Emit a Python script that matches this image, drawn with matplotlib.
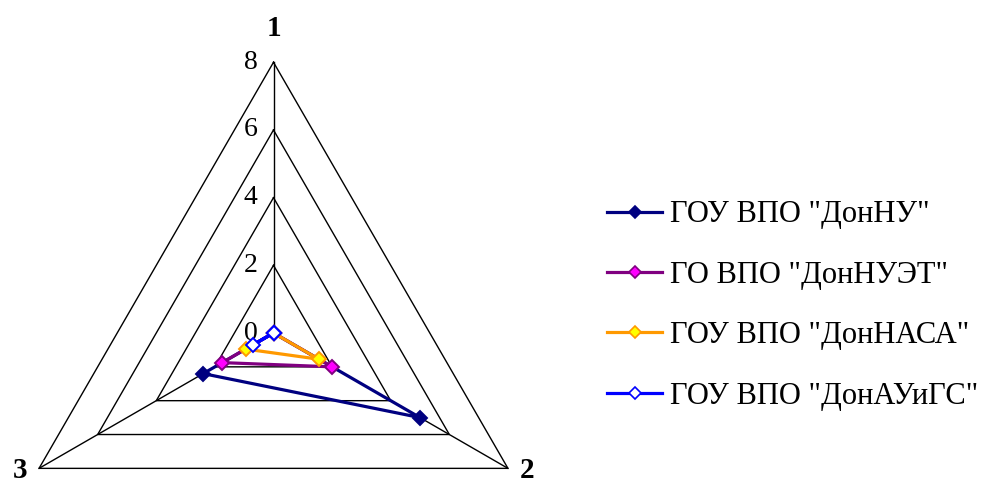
import numpy as np
import matplotlib.pyplot as plt
from matplotlib.lines import Line2D

plt.rcParams['font.family'] = ['Liberation Serif', 'DejaVu Serif']

# axes of the radar, clockwise from the top
categories = ['1', '2', '3']
rings = [2, 4, 6, 8]
ring_labels = ['0', '2', '4', '6', '8']

series_names = ['ГОУ ВПО "ДонНУ"', 'ГО ВПО "ДонНУЭТ"',
                'ГОУ ВПО "ДонНАСА"', 'ГОУ ВПО "ДонАУиГС"']
donnu = [0, 5.0, 2.4]
donnuet = [0, 2.0, 1.75]
donnasa = [0, 1.55, 0.95]
donauigs = [0, 0, 0.7]

line_colors = ['#000080', '#800080', '#FF9900', '#0000FF']
face_colors = ['#000080', '#FF00FF', '#FFFF00', '#FFFFFF']

angles = np.radians([90, -30, 210])


def to_xy(vals):
    v = np.asarray(vals, dtype=float)
    return v * np.cos(angles), v * np.sin(angles)


fig = plt.figure(figsize=(9.97, 4.84), dpi=100)
ax = fig.add_axes([0, 0, 1, 1])
scale = 33.84  # pixels per unit
cx, cy = 273.5, 333.0
ax.set_xlim(-cx / scale, (997 - cx) / scale)
ax.set_ylim(-(484 - cy) / scale, cy / scale)
ax.axis('off')

# triangular grid and spokes
for r in rings:
    x, y = to_xy([r, r, r])
    ax.plot(np.append(x, x[0]), np.append(y, y[0]), color='black', lw=1.0, zorder=1)
for a in angles:
    ax.plot([0, 8 * np.cos(a)], [0, 8 * np.sin(a)], color='black', lw=1.0, zorder=1)

for i, lab in enumerate(ring_labels):
    ax.text(-0.68, 2 * i, lab, fontsize=20, ha='center', va='center', zorder=2)

# category labels
ax.text(0, 9.0, categories[0], fontsize=21, fontweight='bold', ha='center', va='center')
ax.text(7.5, -4.05, categories[1], fontsize=21, fontweight='bold', ha='center', va='center')
ax.text(-7.5, -4.05, categories[2], fontsize=21, fontweight='bold', ha='center', va='center')

handles = []
for k, vals in enumerate([donnu, donnuet, donnasa, donauigs]):
    x, y = to_xy(vals)
    ax.plot(np.append(x, x[0]), np.append(y, y[0]), color=line_colors[k], lw=2.3,
            marker='D', markersize=7.5, markerfacecolor=face_colors[k],
            markeredgecolor=line_colors[k], markeredgewidth=1.4, zorder=3 + k)
    handles.append(Line2D([], [], color=line_colors[k], lw=2.3, marker='D', markersize=6.5,
                          markerfacecolor=face_colors[k], markeredgecolor=line_colors[k],
                          markeredgewidth=1.2))

fig.legend(handles, series_names, loc='center left', bbox_to_anchor=(0.609, 0.369),
           frameon=False, fontsize=22, labelspacing=1.03, handlelength=1.8,
           handletextpad=0.26, borderpad=0, borderaxespad=0)

fig.savefig('out.png', dpi=100)
